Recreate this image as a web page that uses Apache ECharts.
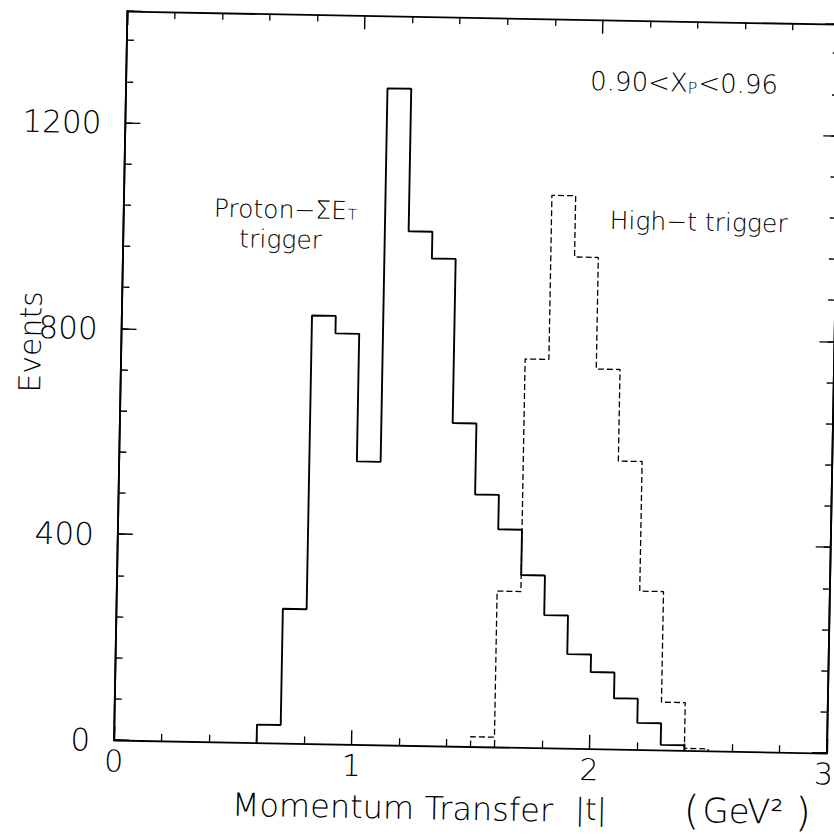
<!DOCTYPE html>
<html>
<head>
<meta charset="utf-8">
<script src="https://cdn.jsdelivr.net/npm/echarts@6/dist/echarts.min.js"></script>
<style>
html,body{margin:0;padding:0;background:#fff;overflow:hidden;width:834px;height:837px;}
#chart{position:absolute;left:0;top:0;width:900px;height:900px;transform:rotate(1.05deg);transform-origin:417px 418.5px;background:#fff;}
</style>
</head>
<body>
<div id="chart"></div>
<script>
// ---- data ----
const solidBinLeft = [0.6,0.7,0.8,0.9,1.0,1.1,1.2,1.3,1.4,1.5,1.6,1.7,1.8,1.9,2.0,2.1,2.2,2.3];
const solidCounts  = [35,261,832,798,550,1276,999,947,628,490,423,335,258,183,149,99,52,10];
const dashedBinLeft = [1.5,1.6,1.7,1.8,1.9,2.0,2.1,2.2,2.3,2.4];
const dashedCounts  = [19,303,755,1074,955,738,560,308,93,4];
const binWidth = 0.1;
const xTickLabels = [0,1,2,3];
const yTickLabels = [0,400,800,1200];
const yMax = 1417;

function stepData(lefts, counts){
  const d = [[lefts[0], 0]];
  lefts.forEach((x, i) => d.push([x, counts[i]]));
  d.push([+(lefts[lefts.length-1] + binWidth).toFixed(2), 0]);
  return d;
}

const FONT = "'DejaVu Sans', sans-serif";
const FW = 200;
const black = '#000';

const chart = echarts.init(document.getElementById('chart'), null, {renderer:'svg'});

function xAx(pos, labels){
  return {
    type:'value', min:0, max:3, interval:1, position:pos,
    axisLine:{show:true, onZero:false, lineStyle:{color:black, width:1.8}},
    axisTick:{show:true, inside:true, length:14, lineStyle:{color:black, width:1.4}},
    minorTick:{show:true, splitNumber:5, length:7, lineStyle:{color:black, width:1.3}},
    splitLine:{show:false}, minorSplitLine:{show:false},
    axisLabel:{show:labels, margin:6, color:black, fontSize:30, fontFamily:FONT, fontWeight:FW,
      formatter: v => !xTickLabels.includes(v) ? '' : (v === 3 ? '{r|3}' : String(v)),
      rich:{ r:{fontSize:30, fontFamily:FONT, fontWeight:FW, color:black, padding:[0,6,0,0]} }}
  };
}
function yAx(pos, major, labels){
  return {
    type:'value', min:0, max:yMax, interval: major ? 400 : 80, position:pos,
    axisLine:{show:true, onZero:false, lineStyle:{color:black, width:1.8}},
    axisTick:{show:true, inside:true, length: major ? 15 : 7, lineStyle:{color:black, width:1.4}},
    splitLine:{show:false},
    axisLabel:{show:labels, margin:24, color:black, fontSize:31, fontFamily:FONT, fontWeight:FW,
      formatter: v => yTickLabels.includes(v) ? String(v) : ''}
  };
}

function txt(x, y, text, size, extra){
  return Object.assign({
    type:'text', x:x, y:y, silent:true,
    style:Object.assign({text:text, fill:black, fontSize:size, fontFamily:FONT, fontWeight:FW,
      textAlign:'left', textVerticalAlign:'middle'}, extra && extra.style || {})
  }, extra && extra.el || {});
}

const option = {
  animation:false,
  backgroundColor:'#fff',
  grid:{left:120, right:67, top:16.4, bottom:154.5, containLabel:false, outerBoundsMode:'none'},
  xAxis:[ xAx('bottom', true), xAx('top', false) ],
  yAxis:[ yAx('left', false, false), yAx('left', true, true), yAx('right', false, false), yAx('right', true, false) ],
  series:[
    {name:'Proton-ΣE_T trigger', type:'line', step:'end', xAxisIndex:0, yAxisIndex:0,
     symbol:'none', data:stepData(solidBinLeft, solidCounts),
     lineStyle:{color:black, width:1.9}},
    {name:'High-t trigger', type:'line', step:'end', xAxisIndex:0, yAxisIndex:0,
     symbol:'none', data:stepData(dashedBinLeft, dashedCounts),
     lineStyle:{color:black, width:1.3, type:[6,3]}}
  ],
  graphic:[
    {type:'text', x:584, y:78, silent:true, style:{
      text:'{a|0.90<X}{s|P}{a|<0.96}', textAlign:'left', textVerticalAlign:'middle',
      rich:{ a:{fontSize:26, fontFamily:FONT, fontWeight:FW, fill:black, lineHeight:28},
             s:{fontSize:16, fontFamily:FONT, fontWeight:FW, fill:black, lineHeight:16, verticalAlign:'bottom', padding:[0,1,1,0]} }
    }},
    {type:'text', x:210, y:212, silent:true, style:{
      text:'{a|Proton−ΣE}{s|T}', textAlign:'left', textVerticalAlign:'middle',
      rich:{ a:{fontSize:25, fontFamily:FONT, fontWeight:FW, fill:black, lineHeight:25},
             s:{fontSize:15, fontFamily:FONT, fontWeight:FW, fill:black, lineHeight:15, verticalAlign:'bottom', padding:[0,0,1,1]} }
    }},
    txt(236, 242, 'trigger', 25),
    txt(606, 217, 'High−t trigger', 25),
    txt(29, 349, 'Events', 30, {el:{rotation:Math.PI/2}, style:{textAlign:'center'}}),
    txt(239, 808, 'Momentum Transfer', 32),
    txt(582, 806, '|t|', 30),
    {type:'text', x:688, y:805, silent:true, style:{
      text:'{p|(}{a|GeV}{q|²}{p|)}', textAlign:'left', textVerticalAlign:'middle',
      rich:{ p:{fontSize:40, fontFamily:FONT, fontWeight:FW, fill:black, lineHeight:40, padding:[0,3,0,3]},
             a:{fontSize:34, fontFamily:FONT, fontWeight:FW, fill:black, lineHeight:40},
             q:{fontSize:32, fontFamily:FONT, fontWeight:FW, fill:black, lineHeight:40, padding:[0,9,0,0]} }
    }}
  ]
};
chart.setOption(option);
</script>
</body>
</html>
